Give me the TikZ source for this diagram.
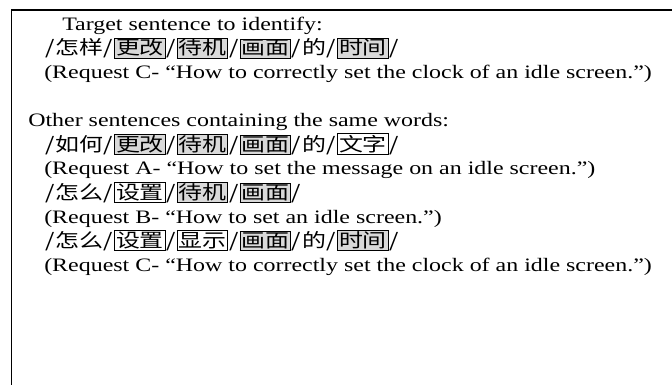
\documentclass[tikz,border=0pt]{standalone}
\usepackage{fontspec}
\setmainfont{Liberation Serif}
\newfontfamily\zhfont{Noto Sans CJK SC}
\usetikzlibrary{positioning}
\definecolor{wordgray}{RGB}{217,217,217}
\newcommand{\wordbox}[2]{{\setlength{\fboxsep}{0.5pt}\setlength{\fboxrule}{1pt}\fcolorbox{black}{#1}{\rule[-0.12em]{0pt}{0.88em}#2}}}
\newcommand{\same}[1]{\wordbox{wordgray}{#1}}
\newcommand{\diff}[1]{\wordbox{white}{#1}}
\newcommand{\cut}{\makebox[0.46em]{/}}

\begin{document}
\begin{tikzpicture}[x=1pt,y=-1pt,
  line/.style={anchor=base west, inner sep=0pt, xscale=1.26, transform shape, font=\fontsize{19}{24}\selectfont},
  zhline/.style={line, font=\fontsize{19}{24}\selectfont\zhfont}]
\useasboundingbox (0,0) rectangle (672,385);
\draw[line width=1.5pt] (11.5,390) -- (11.5,10) -- (680,10);
\node[line] (target) at (62,31) {Target sentence to identify:};
\node[zhline] (tgtzh) at (44,55) {\cut 怎样\cut\same{更改}\cut\same{待机}\cut\same{画面}\cut 的\cut\same{时间}\cut};
\node[line] (tgtreq) at (44,79) {(Request C- “How to correctly set the clock of an idle screen.”)};
\node[line] (other) at (28,127) {Other sentences containing the same words:};
\node[zhline] (reqazh) at (44,151) {\cut 如何\cut\same{更改}\cut\same{待机}\cut\same{画面}\cut 的\cut\diff{文字}\cut};
\node[line] (reqa) at (44,175) {(Request A- “How to set the message on an idle screen.”)};
\node[zhline] (reqbzh) at (44,199) {\cut 怎么\cut\diff{设置}\cut\same{待机}\cut\same{画面}\cut};
\node[line] (reqb) at (44,223) {(Request B- “How to set an idle screen.”)};
\node[zhline] (reqczh) at (44,247) {\cut 怎么\cut\diff{设置}\cut\diff{显示}\cut\same{画面}\cut 的\cut\same{时间}\cut};
\node[line] (reqc) at (44,271) {(Request C- “How to correctly set the clock of an idle screen.”)};
\end{tikzpicture}
\end{document}
